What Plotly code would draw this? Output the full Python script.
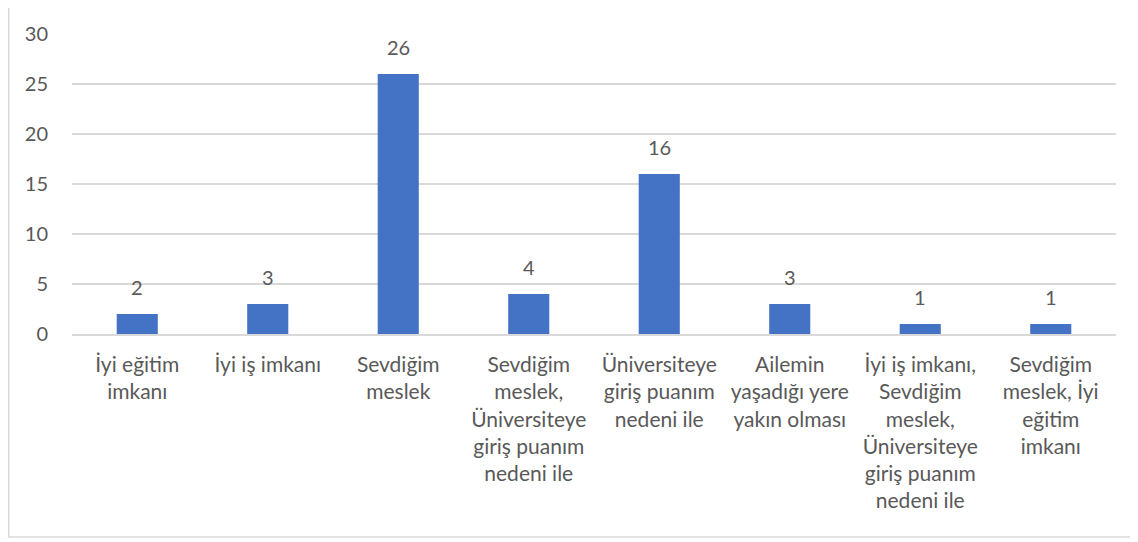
import plotly.graph_objects as go

categories = [
    "İyi eğitim<br>imkanı",
    "İyi iş imkanı",
    "Sevdiğim<br>meslek",
    "Sevdiğim<br>meslek,<br>Üniversiteye<br>giriş puanım<br>nedeni ile",
    "Üniversiteye<br>giriş puanım<br>nedeni ile",
    "Ailemin<br>yaşadığı yere<br>yakın olması",
    "İyi iş imkanı,<br>Sevdiğim<br>meslek,<br>Üniversiteye<br>giriş puanım<br>nedeni ile",
    "Sevdiğim<br>meslek, İyi<br>eğitim<br>imkanı",
]
values = [2, 3, 26, 4, 16, 3, 1, 1]
y_ticks = [0, 5, 10, 15, 20, 25, 30]

# the page body has an 8px margin; the figure is sized to fill the rest
OFF = 8
W, H = 1138 - OFF, 542 - OFF
ml, mr, mt, mb = 72 - OFF, 22, 34 - OFF, 208
pw, ph = W - ml - mr, H - mt - mb

text_color = "#595959"
font_family = "Lato, Carlito, Calibri, sans-serif"

fig = go.Figure()
fig.add_trace(go.Bar(
    x=list(range(len(categories))),
    y=values,
    marker=dict(color="#4472C4", line=dict(width=0)),
    hoverinfo="skip",
))

for i, v in enumerate(values):
    fig.add_annotation(
        x=i, y=v, text=str(v), showarrow=False,
        yanchor="bottom", yshift=13,
        font=dict(size=20, color=text_color, family=font_family),
    )

# chart border
fig.add_shape(
    type="rect", xref="paper", yref="paper",
    x0=(0.75 - ml) / pw, x1=(W + 5 - ml) / pw,
    y0=(mt + ph - (537 - OFF)) / ph, y1=(mt + ph - (4.5 - OFF)) / ph,
    line=dict(color="#D9D9D9", width=1.5), layer="below",
)

fig.update_layout(
    width=W, height=H,
    margin=dict(l=ml, r=mr, t=mt, b=mb),
    paper_bgcolor="white", plot_bgcolor="white",
    bargap=0.685,
    showlegend=False,
    font=dict(family=font_family, size=20, color=text_color),
    xaxis=dict(
        tickmode="array",
        tickvals=list(range(len(categories))),
        ticktext=categories,
        range=[-0.5, len(categories) - 0.5],
        showgrid=False, zeroline=False,
        showline=True, linecolor="#D9D9D9", linewidth=1.5,
        ticks="", ticklabelstandoff=11,
        tickfont=dict(size=21, color=text_color, family=font_family),
        tickangle=0,
    ),
    yaxis=dict(
        range=[0, 30],
        tickvals=y_ticks,
        showgrid=True, gridcolor="#D9D9D9", gridwidth=1.5,
        zeroline=False, showline=False,
        ticks="", ticklabelstandoff=23,
        tickfont=dict(size=20, color=text_color, family=font_family),
    ),
)

fig.write_html("out.html")
